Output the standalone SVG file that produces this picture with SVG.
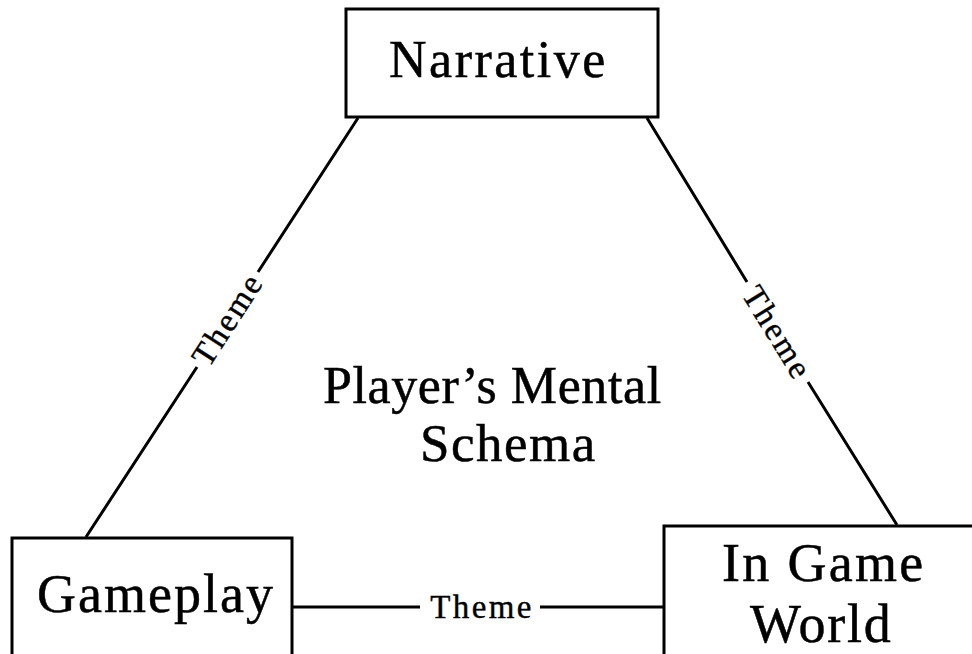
<svg xmlns="http://www.w3.org/2000/svg" width="972" height="654" viewBox="0 0 972 654">
<style>
.box{fill:#fff;stroke:#000;stroke-width:3}
.ln{stroke:#000;stroke-width:3;fill:none}
.t{font-family:"Liberation Serif","Times New Roman",serif;fill:#000;stroke:#000;stroke-width:0.5}
.lbl{font-family:"Liberation Serif","Times New Roman",serif;font-size:33px;letter-spacing:2.4px;fill:#000;stroke:#000;stroke-width:0.4;text-anchor:middle}
</style>
<rect width="972" height="654" fill="#fff"/>
<g id="connectors">
<path class="ln" d="M358,118 L258,272 M197,367 L86,537"/>
<path class="ln" d="M647,118 L747,282 M808,382 L897,525"/>
<path class="ln" d="M292,607 L420,607 M540,607 L664,607"/>
<text class="lbl" transform="translate(227,320) rotate(-57.2)" x="1" y="11">Theme</text>
<text class="lbl" transform="translate(777,332) rotate(58.4)" x="1" y="11">Theme</text>
<text class="lbl" x="482" y="618">Theme</text>
</g>
<g id="narrative">
<rect class="box" x="346" y="9" width="312" height="108"/>
<text class="t" x="389" y="77" font-size="52" letter-spacing="2.5">Narrative</text>
</g>
<g id="gameplay">
<rect class="box" x="12" y="538" width="280" height="130"/>
<text class="t" x="37" y="612" font-size="54" letter-spacing="2">Gameplay</text>
</g>
<g id="ingameworld">
<rect class="box" x="664" y="526" width="320" height="140"/>
<text class="t" x="722" y="581" font-size="54" letter-spacing="2.3">In Game</text>
<text class="t" x="750" y="642" font-size="54" letter-spacing="1.8">World</text>
</g>
<g id="schema">
<text class="t" x="323" y="403" font-size="52" letter-spacing="0.6">Player’s Mental</text>
<text class="t" x="420" y="461" font-size="53" letter-spacing="1.5">Schema</text>
</g>
</svg>
